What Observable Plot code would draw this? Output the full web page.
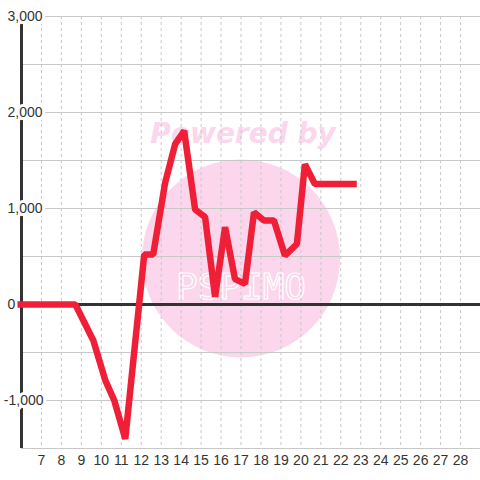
<!DOCTYPE html>
<html><head><meta charset="utf-8">
<script src="https://cdn.jsdelivr.net/npm/d3@7"></script>
<script src="https://cdn.jsdelivr.net/npm/@observablehq/plot@0.6"></script>
<style>body{margin:0;background:#fff}#chart{width:480px;height:480px}</style>
</head><body><div id="chart"></div>
<script>
const days = [5.8, 8.7, 9.6, 10.2, 10.65, 11.2, 12.15, 12.6, 13.2, 13.7, 14.15, 14.7, 15.2, 15.7, 16.2, 16.7, 17.2, 17.65, 18.15, 18.65, 19.2, 19.8, 20.2, 20.7, 22.8];
const values = [0, 0, -375, -790, -1000, -1400, 520, 520, 1270, 1670, 1810, 990, 910, 80, 805, 265, 215, 960, 875, 875, 510, 630, 1460, 1255, 1255];
const xTicks = [7, 8, 9, 10, 11, 12, 13, 14, 15, 16, 17, 18, 19, 20, 21, 22, 23, 24, 25, 26, 27, 28];
const xGrid = [7, 8, 9, 10, 11, 12, 13, 14, 15, 16, 17, 18, 19, 20, 21, 22, 23, 24, 25, 26, 27, 28, 29];
const yGrid = [-1500, -1000, -500, 0, 500, 1000, 1500, 2000, 2500, 3000];
const yTicks = [-1000, 0, 1000, 2000, 3000];
const yTickLabels = ["-1,000", "0", "1,000", "2,000", "3,000"];

const data = days.map((d, i) => ({day: d, value: values[i]}));
const yLab = yTicks.map((v, i) => ({v, label: yTickLabels[i]}));
const yLabPos = yLab.filter(d => d.v >= 0);
const yLabNeg = yLab.filter(d => d.v < 0);

const chart = Plot.plot({
  width: 480,
  height: 480,
  marginLeft: 21,
  marginRight: 0,
  marginTop: 16,
  marginBottom: 32,
  style: {fontFamily: "'Liberation Sans', Arial, sans-serif", fontSize: "14px", color: "#333", background: "#fff"},
  x: {domain: [6, 29], label: null},
  y: {domain: [-1500, 3000], axis: null},
  marks: [
    Plot.dot([0], {frameAnchor: "middle", dx: -10, dy: 26, r: 99, fill: "#fcd6ec", stroke: null}),
    Plot.text(["Powered by"], {frameAnchor: "middle", dx: -8, dy: -98, fontSize: 28, fontWeight: "bold", fontStyle: "italic", fontFamily: "'DejaVu Sans', sans-serif", fill: "#fcd6ec"}),
    Plot.text(["PSPIMO"], {frameAnchor: "middle", dx: -10, dy: 55, fontSize: 36, fontFamily: "'DejaVu Sans Mono', monospace", fill: "none", stroke: "#fff", strokeWidth: 1.2}),
    Plot.ruleY(yGrid, {stroke: "#c8c8c8", strokeWidth: 1}),
    Plot.ruleX(xGrid, {stroke: "#c8c8c8", strokeWidth: 1, strokeDasharray: "3,3"}),
    Plot.ruleY([0], {stroke: "#333", strokeWidth: 3}),
    Plot.ruleX([6], {stroke: "#333", strokeWidth: 3}),
    Plot.text(yLabPos, {y: "v", text: "label", frameAnchor: "left", dx: -14, textAnchor: "start", fill: "#333", stroke: "#fff", strokeWidth: 6, fontSize: 14}),
    Plot.text(yLabNeg, {y: "v", text: "label", frameAnchor: "left", dx: 22, textAnchor: "end", fill: "#333", stroke: "#fff", strokeWidth: 6, fontSize: 14}),
    Plot.line(data, {x: "day", y: "value", stroke: "#ee1f36", strokeWidth: 6.5, strokeLinejoin: "miter", strokeLinecap: "butt"}),
    Plot.axisX(xTicks, {tickSize: 0, tickPadding: 7, fontSize: 14, fill: "#333", label: null})
  ]
});
document.getElementById("chart").append(chart);
</script>
</body></html>
